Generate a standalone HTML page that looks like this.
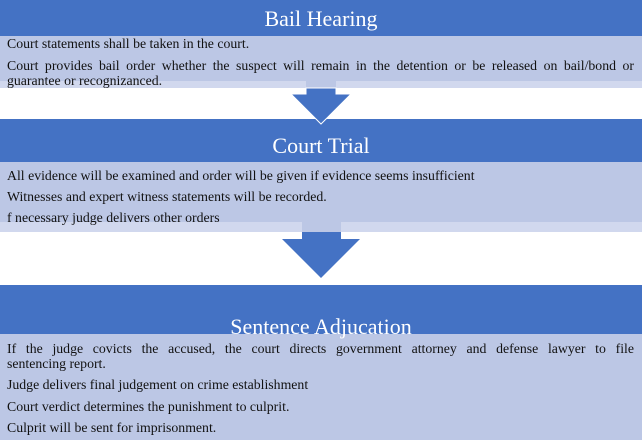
<!DOCTYPE html>
<html><head><meta charset="utf-8"><style>
body{margin:0;width:643px;height:442px;position:relative;background:#fff;overflow:hidden;font-family:"Liberation Serif",serif}
div{position:absolute}
.h{background:#4472C4;left:0;width:642px}
.b{background:#BCC7E5;left:0;width:642px}
.s{background:#D1D8EE;left:0;width:642px}
.t{color:#fff;font-size:22px;width:642px;text-align:center;left:0;line-height:24px}
.l{left:7px;font-size:13.8px;line-height:16px;color:#111;white-space:nowrap}
.j{width:627px;text-align:justify;text-align-last:justify}
</style></head><body>
<div class="h" style="top:0;height:36px"></div>
<div class="b" style="top:36px;height:45px"></div>
<div class="s" style="top:81px;height:7px"></div>
<div class="t" style="top:7px">Bail Hearing</div>
<div class="l" style="top:36px">Court statements shall be taken in the court.</div>
<div class="l j" style="top:58px">Court provides bail order whether the suspect will remain in the detention or be released on bail/bond or</div>
<div class="l" style="top:73px">guarantee or recognizanced.</div>

<div class="h" style="top:119px;height:43px"></div>
<div class="b" style="top:162px;height:60px"></div>
<div class="s" style="top:222px;height:10px"></div>
<div class="t" style="top:134px">Court Trial</div>
<div class="l" style="top:168px">All evidence will be examined and order will be given if evidence seems insufficient</div>
<div class="l" style="top:189px">Witnesses and expert witness statements will be recorded.</div>
<div class="l" style="top:210px">f necessary judge delivers other orders</div>

<div class="h" style="top:285px;height:49px"></div>
<div class="b" style="top:334px;height:106px"></div>
<div class="t" style="top:315px">Sentence Adjucation</div>
<div class="l j" style="top:341px">If the judge covicts the accused, the court directs government attorney and defense lawyer to file</div>
<div class="l" style="top:356px">sentencing report.</div>
<div class="l" style="top:377px">Judge delivers final judgement on crime establishment</div>
<div class="l" style="top:399px">Court verdict determines the punishment to culprit.</div>
<div class="l" style="top:420px">Culprit will be sent for imprisonment.</div>

<svg style="position:absolute;left:0;top:0" width="643" height="442">
<rect x="306" y="81" width="30" height="7" fill="#BCC7E5"/>
<polygon points="306,88 336,88 336,94 351,94 321,124 291,94 306,94" fill="#4472C4" stroke="#fff" stroke-width="1"/>
<rect x="302" y="222" width="39" height="10" fill="#BCC7E5"/>
<polygon points="302,232 341,232 341,239 360,239 321,278 282,239 302,239" fill="#4472C4"/>
</svg>
</body></html>
